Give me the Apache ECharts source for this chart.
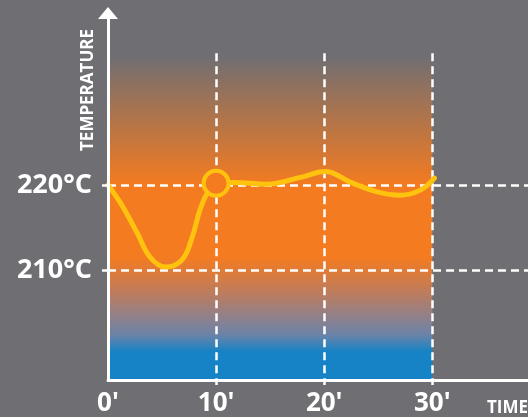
<!DOCTYPE html>
<html>
<head>
<meta charset="utf-8">
<script src="https://cdn.jsdelivr.net/npm/echarts@6/dist/echarts.min.js"></script>
<style>
html,body{margin:0;padding:0;background:#6f6e73;}
#c{width:528px;height:417px;}
</style>
</head>
<body>
<div id="c"></div>
<script>
// ---- data ----
var timeValues = [0, 1.3, 2.7, 3.9, 5.3, 6.85, 7.8, 8.5, 9.25, 10, 11.6, 14.7, 17.8, 20.1, 22.4, 24.9, 27, 28.9, 30.2];
var tempValues = [220, 217.6, 214.35, 211.5, 210.35, 211.2, 213.9, 217.05, 219.2, 220.2, 220.3, 220.1, 220.9, 221.6, 220.35, 219.2, 218.8, 219.4, 220.8];
var markerPoint = [10, 220.2];
var xTickValues = [0, 10, 20, 30];
var xTickLabels = ["0'", "10'", "20'", "30'"];
var yTickValues = [210, 220];
var yTickLabels = ["210°C", "220°C"];
var xAxisTitle = 'TIME';
var yAxisTitle = 'TEMPERATURE';

// ---- layout constants ----
var X_MIN = 0, X_MAX = 38.85;
var Y_MIN = 197.06, Y_MAX = 240.24;
var BAND_TOP = 236.47;
var VLINE_TOP = 235.5;

var BG = '#6f6e73', ORANGE = '#F47B20', BLUE = '#1583C6', YELLOW = '#FFC20E';
var FONT = '"Open Sans", "Noto Sans", sans-serif';

var lineData = timeValues.map(function (t, i) { return [t, tempValues[i]]; });

var hLines = yTickValues.map(function (v) {
  return [{ coord: [X_MIN, v] }, { coord: [X_MAX, v] }];
});
var vLines = xTickValues.slice(1).map(function (v) {
  return [{ coord: [v, VLINE_TOP] }, { coord: [v, Y_MIN] }];
});

var chart = echarts.init(document.getElementById('c'), null, { renderer: 'canvas' });
chart.setOption({
  backgroundColor: BG,
  animation: false,
  grid: { left: 108, right: 0, top: 13, bottom: 37, containLabel: false },
  xAxis: {
    type: 'value', min: X_MIN, max: X_MAX, z: 10,
    axisLine: { show: true, lineStyle: { color: '#fff', width: 3 } },
    axisTick: { show: true, customValues: xTickValues.slice(1), length: 5, lineStyle: { color: '#fff', width: 2.5 } },
    splitLine: { show: false },
    axisLabel: {
      customValues: xTickValues,
      formatter: function (v) { var i = xTickValues.indexOf(v); return i >= 0 ? xTickLabels[i] : ''; },
      color: '#fff', fontFamily: FONT, fontWeight: 'bold', fontSize: 26, margin: 11
    }
  },
  yAxis: {
    type: 'value', min: Y_MIN, max: Y_MAX, z: 10,
    axisLine: { show: true, symbol: ['none', 'triangle'], symbolSize: [20, 12], lineStyle: { color: '#fff', width: 3 } },
    axisTick: { show: true, customValues: yTickValues, length: 6, lineStyle: { color: '#fff', width: 2.5 } },
    splitLine: { show: false },
    axisLabel: {
      customValues: yTickValues,
      formatter: function (v) { var i = yTickValues.indexOf(v); return i >= 0 ? yTickLabels[i] : ''; },
      color: '#fff', fontFamily: FONT, fontWeight: 'bold', fontSize: 27, margin: 16
    }
  },
  graphic: [
    {
      type: 'text', x: 88, y: 90, rotation: Math.PI / 2, z: 20,
      style: { text: yAxisTitle, fill: '#fff', font: 'bold 17px ' + FONT, align: 'center', verticalAlign: 'middle' }
    },
    {
      type: 'text', x: 487, y: 408, z: 20,
      style: { text: xAxisTitle, fill: '#fff', font: 'bold 17px ' + FONT, align: 'left', verticalAlign: 'middle' }
    }
  ],
  series: [
    {
      type: 'line', data: [], z: 1, silent: true,
      markArea: {
        silent: true, z: 1,
        itemStyle: {
          color: {
            type: 'linear', x: 0, y: 0, x2: 0, y2: 1,
            colorStops: [
              { offset: 0, color: BG },
              { offset: 0.03, color: BG },
              { offset: 0.418, color: ORANGE },
              { offset: 0.633, color: ORANGE },
              { offset: 0.731, color: '#c27c58' },
              { offset: 0.806, color: '#948088' },
              { offset: 0.866, color: '#6a83a8' },
              { offset: 0.916, color: BLUE },
              { offset: 1, color: BLUE }
            ]
          }
        },
        data: [[{ coord: [0, Y_MIN] }, { coord: [30, BAND_TOP] }]]
      }
    },
    {
      type: 'line', data: [], z: 2, silent: true,
      markLine: {
        silent: true, z: 2, symbol: ['none', 'none'], label: { show: false },
        lineStyle: { color: '#fff', width: 2.5, type: [8, 5] },
        emphasis: { disabled: true },
        data: hLines.concat(vLines)
      }
    },
    {
      type: 'line', data: lineData, z: 3, smooth: 0.4, showSymbol: false, silent: true,
      lineStyle: { color: YELLOW, width: 5, cap: 'round' }
    },
    {
      type: 'scatter', data: [markerPoint], z: 4, symbolSize: 25, silent: true,
      itemStyle: { color: ORANGE, borderColor: YELLOW, borderWidth: 4, opacity: 1 }
    }
  ]
});
</script>
</body>
</html>
